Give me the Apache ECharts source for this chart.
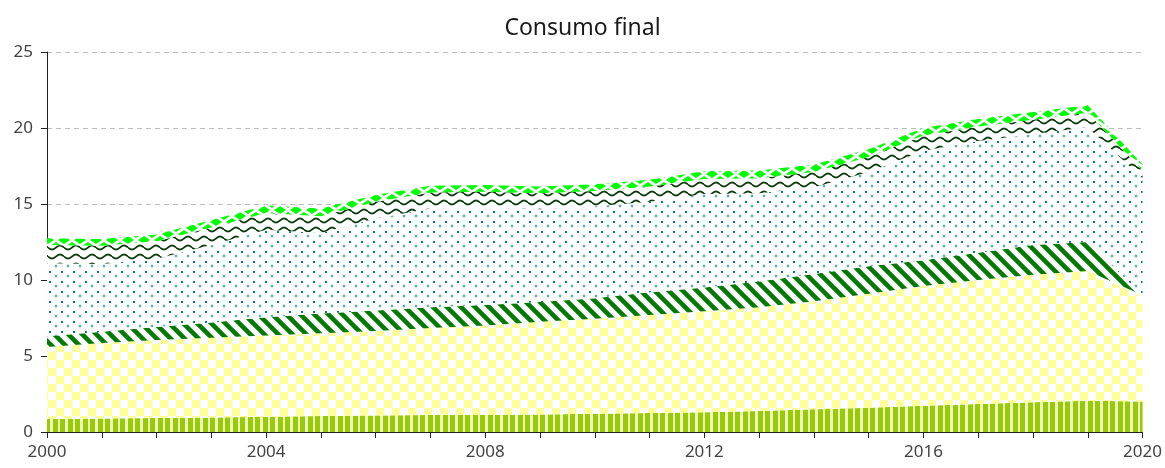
<!DOCTYPE html>
<html>
<head>
<meta charset="utf-8">
<script src="https://cdn.jsdelivr.net/npm/echarts@6/dist/echarts.min.js"></script>
<style>
  html, body { margin: 0; padding: 0; background: #fff; }
  #chart { width: 1165px; height: 468px; }
</style>
</head>
<body>
<div id="chart"></div>
<script>
// years on the x axis
var years = ['2000','2001','2002','2003','2004','2005','2006','2007','2008','2009','2010',
             '2011','2012','2013','2014','2015','2016','2017','2018','2019','2020'];
var yTicks = [0, 5, 10, 15, 20, 25];

// stacked layers, bottom to top
var layerStripes  = [0.85,0.88,0.92,0.95,1.0,1.05,1.08,1.12,1.12,1.15,1.2,1.25,1.3,1.38,1.5,1.6,1.72,1.85,1.95,2.05,2.0];
var layerChecker  = [4.75,4.97,5.13,5.25,5.35,5.45,5.57,5.73,5.88,6.1,6.25,6.45,6.65,6.82,7.1,7.5,7.88,8.15,8.4,8.55,6.9];
var layerDiagonal = [0.7,0.75,0.85,1.0,1.2,1.3,1.35,1.35,1.35,1.3,1.35,1.5,1.55,1.7,1.8,1.8,1.7,1.8,1.95,1.9,0.1];
var layerDots     = [4.8,4.45,4.5,5.1,5.75,5.3,6.05,6.5,6.4,6.1,6.05,5.95,6.15,5.8,5.7,6.2,7.2,7.35,7.3,7.55,7.7];
var layerWaves    = [1.2,1.2,1.15,1.15,1.1,1.1,1.1,1.05,1.05,1.05,1.0,1.0,1.0,1.0,1.0,1.0,1.0,0.95,0.95,0.95,0.5];
var layerDiamonds = [0.45,0.45,0.45,0.5,0.5,0.5,0.45,0.45,0.45,0.45,0.45,0.45,0.5,0.5,0.5,0.5,0.5,0.5,0.5,0.5,0.4];

// small canvas tiles used as fill patterns
function tile(w, h, draw) {
  var c = document.createElement('canvas');
  c.width = w; c.height = h;
  var ctx = c.getContext('2d');
  draw(ctx, w, h);
  return { image: c, repeat: 'repeat' };
}

var patStripes = tile(15, 4, function (ctx) {
  ctx.fillStyle = '#eef6cc'; ctx.fillRect(0, 0, 15, 4);
  ctx.fillStyle = '#99cc00';
  ctx.fillRect(0, 0, 5, 4); ctx.fillRect(8, 0, 5, 4);
});

var patChecker = tile(16, 16, function (ctx) {
  ctx.fillStyle = '#ffffff'; ctx.fillRect(0, 0, 16, 16);
  ctx.fillStyle = '#ffff99';
  ctx.fillRect(0, 0, 8, 8); ctx.fillRect(8, 8, 8, 8);
});

var patDiagonal = tile(14, 14, function (ctx) {
  ctx.fillStyle = '#ffffff'; ctx.fillRect(0, 0, 14, 14);
  ctx.strokeStyle = '#007a00'; ctx.lineWidth = 4.5;
  ctx.beginPath();
  ctx.moveTo(-7, -7); ctx.lineTo(21, 21);
  ctx.moveTo(-7, 7); ctx.lineTo(7, 21);
  ctx.moveTo(7, -7); ctx.lineTo(21, 7);
  ctx.stroke();
});

var patDots = tile(12, 10, function (ctx) {
  ctx.fillStyle = '#ffffff'; ctx.fillRect(0, 0, 12, 10);
  ctx.fillStyle = '#008080'; ctx.fillRect(1, 1, 2, 2);
  ctx.fillStyle = '#5fb0b0';
  ctx.fillRect(7, 5, 2, 2); ctx.fillRect(7.5, 4.5, 1, 3); ctx.fillRect(6.5, 5.5, 3, 1);
});

var patWaves = tile(16, 9, function (ctx) {
  ctx.fillStyle = '#ffffff'; ctx.fillRect(0, 0, 16, 9);
  ctx.strokeStyle = '#0d3d0d'; ctx.lineWidth = 1.8;
  ctx.beginPath();
  for (var x = 0; x <= 16; x += 0.5) {
    var y = 4.5 + 2 * Math.sin(x / 16 * Math.PI * 2);
    if (x === 0) ctx.moveTo(x, y); else ctx.lineTo(x, y);
  }
  ctx.stroke();
});

var patDiamonds = tile(16, 12, function (ctx) {
  ctx.fillStyle = '#ffffff'; ctx.fillRect(0, 0, 16, 12);
  ctx.fillStyle = '#00ff00';
  function diamond(cx, cy) {
    ctx.beginPath();
    ctx.moveTo(cx - 6, cy); ctx.lineTo(cx, cy + 4);
    ctx.lineTo(cx + 6, cy); ctx.lineTo(cx, cy - 4);
    ctx.closePath(); ctx.fill();
  }
  diamond(8, 6); diamond(0, 0); diamond(16, 0); diamond(0, 12); diamond(16, 12);
});

function layer(name, data, pattern) {
  return {
    name: name,
    type: 'line',
    stack: 'total',
    data: data,
    showSymbol: false,
    silent: true,
    lineStyle: { width: 0 },
    areaStyle: { color: pattern, opacity: 1 }
  };
}

var chart = echarts.init(document.getElementById('chart'));
chart.setOption({
  animation: false,
  backgroundColor: '#ffffff',
  title: {
    text: 'Consumo final',
    left: 'center',
    top: 12,
    textStyle: { fontFamily: 'Noto Sans', fontSize: 23, fontWeight: 'normal', color: '#1a1a1a' }
  },
  grid: { left: 47, right: 22, top: 52, bottom: 36 },
  xAxis: {
    type: 'category',
    data: years,
    boundaryGap: false,
    axisLine: { lineStyle: { color: '#222', width: 1 } },
    axisTick: { show: true, interval: 0, length: 6, lineStyle: { color: '#222' } },
    axisLabel: { interval: 3, margin: 12, fontFamily: 'Noto Sans', fontSize: 17, color: '#444' },
    splitLine: { show: false }
  },
  yAxis: {
    type: 'value',
    min: yTicks[0],
    max: yTicks[yTicks.length - 1],
    interval: 5,
    axisLine: { show: true, lineStyle: { color: '#222', width: 1 } },
    axisTick: { show: true, length: 6, lineStyle: { color: '#222' } },
    axisLabel: { margin: 14, fontFamily: 'Noto Sans', fontSize: 17, color: '#444' },
    splitLine: { show: true, lineStyle: { color: '#bdbdbd', type: [5, 4], width: 1 } }
  },
  series: [
    layer('stripes', layerStripes, patStripes),
    layer('checker', layerChecker, patChecker),
    layer('diagonal', layerDiagonal, patDiagonal),
    layer('dots', layerDots, patDots),
    layer('waves', layerWaves, patWaves),
    layer('diamonds', layerDiamonds, patDiamonds)
  ]
});
</script>
</body>
</html>
